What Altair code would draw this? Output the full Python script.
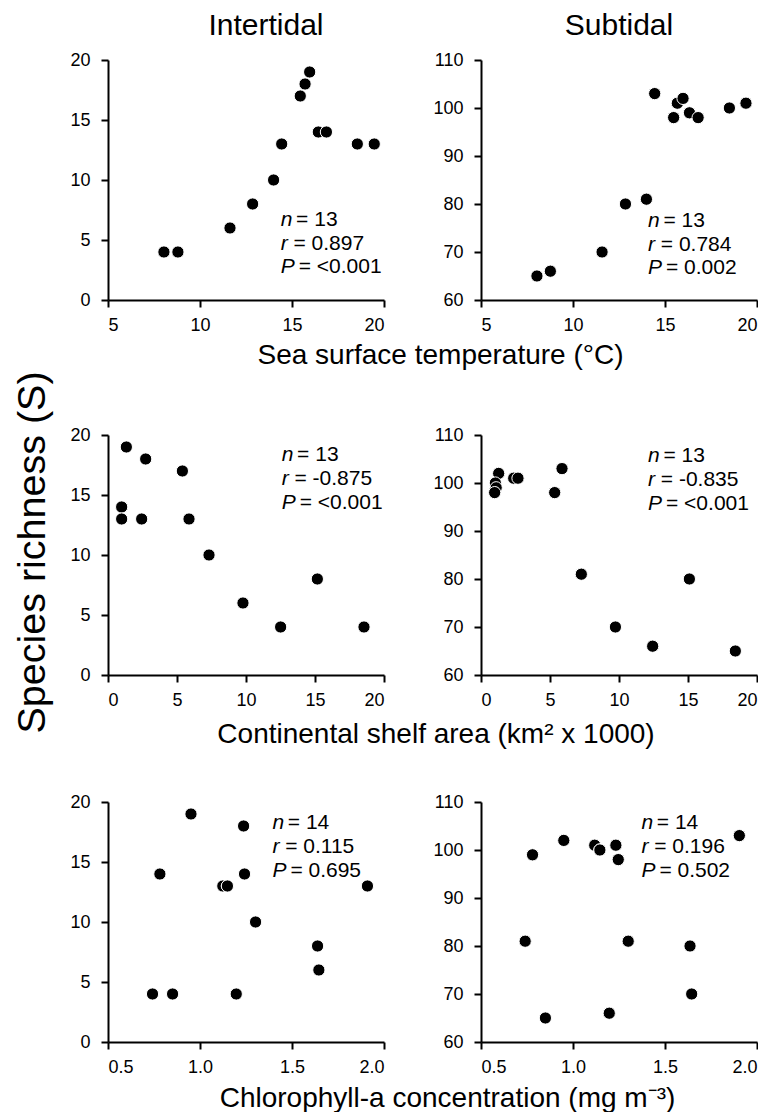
import altair as alt
import pandas as pd

FONT = "Liberation Sans"

# ---- data ----
sst_int = [8.04, 8.8, 11.63, 12.86, 14.0, 14.44, 15.45, 15.71, 15.96, 16.43, 16.87, 18.55, 19.47]
s_sst_int = [4, 4, 6, 8, 10, 13, 17, 18, 19, 14, 14, 13, 13]

sst_sub = [8.04, 8.77, 11.58, 12.85, 13.99, 14.44, 15.47, 15.67, 15.98, 16.33, 16.8, 18.5, 19.4]
s_sst_sub = [65, 66, 70, 80, 81, 103, 98, 101, 102, 99, 98, 100, 101]

shelf_int = [1.33, 2.73, 5.39, 0.99, 0.99, 0.99, 2.44, 5.87, 7.32, 9.78, 15.17, 12.51, 18.55]
s_shelf_int = [19, 18, 17, 14, 14, 13, 13, 13, 10, 6, 8, 4, 4]

shelf_sub = [1.28, 1.04, 1.1, 0.99, 2.37, 2.68, 5.34, 5.87, 7.27, 9.74, 15.1, 12.44, 18.43]
s_shelf_sub = [102, 100, 99, 98, 101, 101, 98, 103, 81, 70, 80, 66, 65]

chl_int = [0.951, 1.237, 0.782, 1.242, 1.124, 1.149, 1.149, 1.91, 1.302, 1.639, 1.646, 0.742, 0.851, 1.197]
s_chl_int = [19, 18, 14, 14, 13, 13, 13, 13, 10, 8, 6, 4, 4, 4]

chl_sub = [0.95, 0.78, 1.118, 1.146, 1.146, 1.233, 1.246, 1.904, 0.74, 1.30, 1.636, 1.645, 0.85, 1.197]
s_chl_sub = [102, 99, 101, 100, 100, 101, 98, 103, 81, 81, 80, 70, 65, 66]

stats = {
    "sst_int": ["13", "0.897", "<0.001"],
    "sst_sub": ["13", "0.784", "0.002"],
    "shelf_int": ["13", "-0.875", "<0.001"],
    "shelf_sub": ["13", "-0.835", "<0.001"],
    "chl_int": ["14", "0.115", "0.695"],
    "chl_sub": ["14", "0.196", "0.502"],
}
symbols = ["n", "r", "P"]

col_titles = ["Intertidal", "Subtidal"]
x_titles = ["Sea surface temperature (°C)",
            "Continental shelf area (km² x 1000)",
            "Chlorophyll-a concentration (mg m⁻³)"]
y_title = "Species richness (S)"

W, H = 276, 240
ANN_FS = 21
SYM_OFF = {"n": 15.4, "r": 12.8, "P": 18}


def panel(xv, yv, xdom, xticks, xfmt, ydom, yticks, key, ann_x, ann_y,
          xtitle=None, xtitle_x=0, xtitle_y=63, title=None, title_x=0):
    df = pd.DataFrame({"x": xv, "y": yv})
    if xtitle:
        xaxis = alt.Axis(values=xticks, format=xfmt, title=xtitle,
                         titleX=xtitle_x, titleY=xtitle_y, titleAlign="center",
                         titleBaseline="alphabetic", titleFontSize=28,
                         titleFontWeight="normal", titleFont=FONT, titleColor="black")
    else:
        xaxis = alt.Axis(values=xticks, format=xfmt, title=None)
    pts = alt.Chart(df).mark_point(
        filled=True, shape="circle", fill="black", stroke="white",
        strokeWidth=1, size=150, opacity=1
    ).encode(
        x=alt.X("x:Q", scale=alt.Scale(domain=xdom, nice=False, zero=False), axis=xaxis),
        y=alt.Y("y:Q", scale=alt.Scale(domain=ydom, nice=False, zero=False),
                axis=alt.Axis(values=yticks, title=None)),
    )
    layers = [pts]
    for i, (sym, val) in enumerate(zip(symbols, stats[key])):
        tdf = pd.DataFrame({"sym": [sym], "rest": ["= " + val]})
        yy = ann_y[i]
        layers.append(alt.Chart(tdf).mark_text(
            align="left", baseline="middle", font=FONT, fontSize=ANN_FS,
            fontStyle="italic", color="black"
        ).encode(x=alt.value(ann_x), y=alt.value(yy), text="sym:N"))
        layers.append(alt.Chart(tdf).mark_text(
            align="left", baseline="middle", font=FONT, fontSize=ANN_FS,
            color="black"
        ).encode(x=alt.value(ann_x + SYM_OFF[sym]), y=alt.value(yy), text="rest:N"))
    if title:
        ttl = pd.DataFrame({"t": [title]})
        layers.append(alt.Chart(ttl).mark_text(
            align="center", baseline="alphabetic", font=FONT, fontSize=30, color="black"
        ).encode(x=alt.value(title_x), y=alt.value(-25), text="t:N"))
    return alt.layer(*layers).properties(width=W, height=H)


p1 = panel(sst_int, s_sst_int, [5, 20], [5, 10, 15, 20], "d", [0, 20], [0, 5, 10, 15, 20],
           "sst_int", 172.7, [160, 183.5, 207], xtitle=x_titles[0], xtitle_x=332, xtitle_y=63,
           title=col_titles[0], title_x=158)
p2 = panel(sst_sub, s_sst_sub, [5, 20], [5, 10, 15, 20], "d", [60, 110], [60, 70, 80, 90, 100, 110],
           "sst_sub", 167, [160.5, 184.5, 208], title=col_titles[1], title_x=138)
p3 = panel(shelf_int, s_shelf_int, [0, 20], [0, 5, 10, 15, 20], "d", [0, 20], [0, 5, 10, 15, 20],
           "shelf_int", 173.7, [20, 44, 68], xtitle=x_titles[1], xtitle_x=327.5, xtitle_y=67)
p4 = panel(shelf_sub, s_shelf_sub, [0, 20], [0, 5, 10, 15, 20], "d", [60, 110], [60, 70, 80, 90, 100, 110],
           "shelf_sub", 167, [20.5, 45, 69])
p5 = panel(chl_int, s_chl_int, [0.5, 2.0], [0.5, 1.0, 1.5, 2.0], ".1f", [0, 20], [0, 5, 10, 15, 20],
           "chl_int", 164.4, [20.5, 45, 69], xtitle=x_titles[2], xtitle_x=339, xtitle_y=64)
p6 = panel(chl_sub, s_chl_sub, [0.5, 2.0], [0.5, 1.0, 1.5, 2.0], ".1f", [60, 110], [60, 70, 80, 90, 100, 110],
           "chl_sub", 160.4, [20.5, 45, 69])

row1 = alt.hconcat(p1, p2, spacing=97, bounds="flush")
row2 = alt.hconcat(p3, p4, spacing=97, bounds="flush")
row3 = alt.hconcat(p5, p6, spacing=97, bounds="flush")

chart = alt.vconcat(
    row1, alt.vconcat(row2, row3, spacing=45), spacing=57,
    title=alt.TitleParams(y_title, orient="left", anchor="middle", fontSize=39.5,
                          font=FONT, fontWeight="normal", color="black", offset=16.5, dx=9),
).properties(
    padding={"left": 4, "top": 3, "right": 0, "bottom": 0}
).configure_view(stroke=None).configure_axis(
    domainColor="black", domainWidth=2, tickColor="black", tickWidth=2, tickSize=7,
    labelFont=FONT, labelFontSize=18, labelColor="black", grid=False,
).configure_axisY(labelPadding=11).configure_axisX(labelPadding=9)

chart.save("out.html", embed_options={"renderer": "svg", "actions": False})
